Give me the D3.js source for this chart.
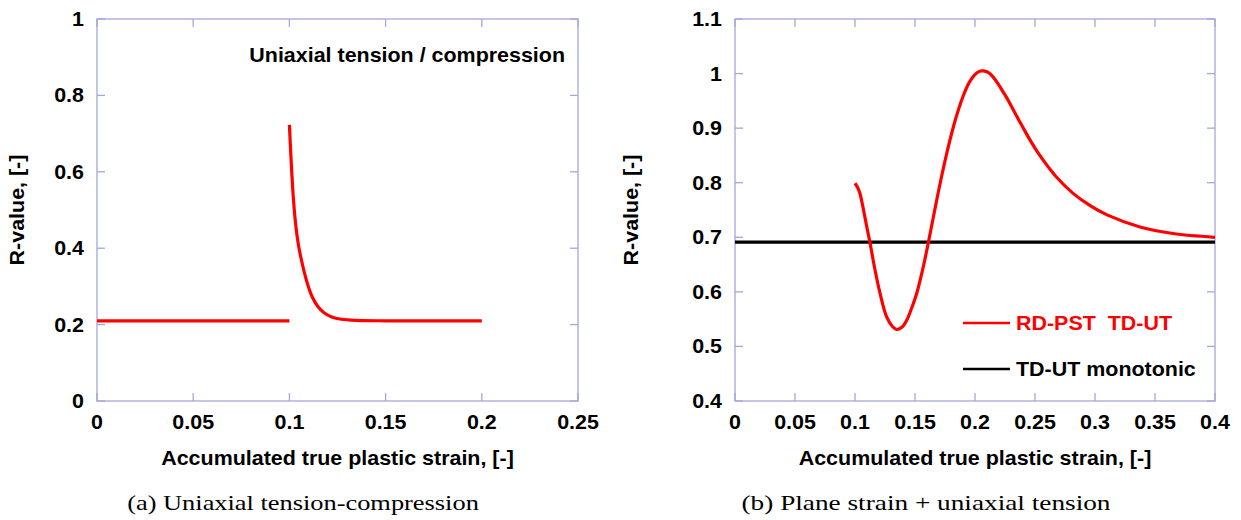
<!DOCTYPE html>
<html>
<head>
<meta charset="utf-8">
<script src="https://cdn.jsdelivr.net/npm/d3@7/dist/d3.min.js"></script>
<style>
  body { margin: 0; background: #fff; }
  svg text { font-family: "Liberation Sans", Arial, sans-serif; font-weight: bold; fill: #000; }
  svg text.caption { font-family: "Liberation Serif", "Times New Roman", serif; font-weight: normal; }
</style>
</head>
<body>
<div id="chart"></div>
<script>
// Data
const leftXTicks = [0, 0.05, 0.1, 0.15, 0.2, 0.25];
const leftXLabels = ['0', '0.05', '0.1', '0.15', '0.2', '0.25'];
const leftYTicks = [0, 0.2, 0.4, 0.6, 0.8, 1];
const leftYLabels = ['0', '0.2', '0.4', '0.6', '0.8', '1'];

const rightXTicks = [0, 0.05, 0.1, 0.15, 0.2, 0.25, 0.3, 0.35, 0.4];
const rightXLabels = ['0', '0.05', '0.1', '0.15', '0.2', '0.25', '0.3', '0.35', '0.4'];
const rightYTicks = [0.4, 0.5, 0.6, 0.7, 0.8, 0.9, 1, 1.1];
const rightYLabels = ['0.4', '0.5', '0.6', '0.7', '0.8', '0.9', '1', '1.1'];

// (a) first loading segment, then reversed loading
const uniaxialFirst = [[0, 0.21], [0.1, 0.21]];
const uniaxialReverse = [
  [0.100, 0.723], [0.101, 0.620], [0.102, 0.535], [0.103, 0.475], [0.104, 0.432],
  [0.105, 0.400], [0.106, 0.375], [0.108, 0.332], [0.110, 0.297], [0.112, 0.271],
  [0.115, 0.246], [0.118, 0.231], [0.122, 0.220], [0.127, 0.214], [0.135, 0.211],
  [0.150, 0.210], [0.175, 0.210], [0.200, 0.210]
];

// (b) plane strain then uniaxial tension
const pstUt = [
  [0.100, 0.799], [0.102, 0.792], [0.104, 0.781], [0.106, 0.762], [0.108, 0.740],
  [0.110, 0.717], [0.1125, 0.690], [0.1167, 0.640], [0.1208, 0.598], [0.1264, 0.554],
  [0.131, 0.537], [0.135, 0.531], [0.139, 0.535], [0.1431, 0.548], [0.147, 0.569],
  [0.1514, 0.597], [0.1569, 0.646], [0.1611, 0.690], [0.166, 0.745], [0.172, 0.810],
  [0.178, 0.868], [0.184, 0.918], [0.190, 0.958], [0.195, 0.983], [0.1995, 0.997],
  [0.2035, 1.004], [0.207, 1.005], [0.211, 1.002], [0.215, 0.994], [0.219, 0.982],
  [0.223, 0.968], [0.2264, 0.956], [0.233, 0.929], [0.240, 0.901], [0.247, 0.874],
  [0.254, 0.850], [0.261, 0.829], [0.268, 0.810], [0.282, 0.780], [0.296, 0.758],
  [0.310, 0.741], [0.3375, 0.719], [0.365, 0.707], [0.400, 0.700]
];
const utMonotonic = [[0, 0.691], [0.4, 0.691]];

const legendNames = ['RD-PST  TD-UT', 'TD-UT monotonic'];

const W = 1241, H = 520;
const frameColor = '#a6a6dc';
const sansSize = 19.5, stretch = 1.1;

const svg = d3.select('#chart').append('svg')
    .attr('width', W)
    .attr('height', H);

// bold sans text, a little wider than Liberation Sans as in the picture
function label(parent, x, y, txt, anchor, rot) {
  return parent.append('text')
    .attr('transform', `translate(${x},${y})` + (rot ? ` rotate(${rot})` : '') + ` scale(${stretch},1)`)
    .attr('text-anchor', anchor || 'start')
    .style('font-size', sansSize + 'px')
    .attr('xml:space', 'preserve')
    .text(txt);
}

function drawPanel(opt) {
  const x = d3.scaleLinear().domain(opt.xDomain).range([opt.left, opt.right]);
  const y = d3.scaleLinear().domain(opt.yDomain).range([opt.bottom, opt.top]);
  const g = svg.append('g');

  // frame
  g.append('rect')
    .attr('x', opt.left).attr('y', opt.top)
    .attr('width', opt.right - opt.left).attr('height', opt.bottom - opt.top)
    .attr('fill', 'none').attr('stroke', frameColor).attr('stroke-width', 1.3);

  // inside ticks on all four sides
  const tk = 8;
  const ticks = g.append('g');
  ticks.selectAll('.tb').data(opt.xTicks).join('line')
    .attr('x1', d => x(d)).attr('x2', d => x(d))
    .attr('y1', opt.bottom).attr('y2', opt.bottom - tk);
  ticks.selectAll('.tt').data(opt.xTicks).join('line')
    .attr('x1', d => x(d)).attr('x2', d => x(d))
    .attr('y1', opt.top).attr('y2', opt.top + tk);
  ticks.selectAll('.tl').data(opt.yTicks).join('line')
    .attr('y1', d => y(d)).attr('y2', d => y(d))
    .attr('x1', opt.left).attr('x2', opt.left + tk);
  ticks.selectAll('.tr').data(opt.yTicks).join('line')
    .attr('y1', d => y(d)).attr('y2', d => y(d))
    .attr('x1', opt.right).attr('x2', opt.right - tk);
  ticks.selectAll('line').attr('stroke', frameColor).attr('stroke-width', 1.3);

  // tick labels
  opt.xTicks.forEach((d, i) => label(g, x(d), opt.bottom + 28, opt.xLabels[i], 'middle'));
  opt.yTicks.forEach((d, i) => label(g, opt.left - 13, y(d) + 7, opt.yLabels[i], 'end'));

  // axis titles
  label(g, (opt.left + opt.right) / 2, 465, 'Accumulated true plastic strain, [-]', 'middle');
  label(g, opt.yTitleX, (opt.top + opt.bottom) / 2, 'R-value, [-]', 'middle', -90);

  // caption (serif, wide like Computer Modern)
  g.append('text').attr('class', 'caption')
    .attr('transform', `translate(${opt.captionX},510) scale(${opt.captionStretch},1)`)
    .attr('text-anchor', 'middle').style('font-size', '22px')
    .text(opt.caption);

  const line = d3.line().x(d => x(d[0])).y(d => y(d[1])).curve(d3.curveCatmullRom.alpha(0.5));
  opt.series.forEach(s => {
    g.append('path').datum(s.data)
      .attr('d', line)
      .attr('fill', 'none')
      .attr('stroke', s.color)
      .attr('stroke-width', 3.2);
  });
  return { g, x, y };
}

const a = drawPanel({
  left: 97, right: 578, top: 19, bottom: 401,
  xDomain: [0, 0.25], yDomain: [0, 1],
  xTicks: leftXTicks, xLabels: leftXLabels,
  yTicks: leftYTicks, yLabels: leftYLabels,
  yTitleX: 24, captionX: 303, captionStretch: 1.2,
  caption: '(a) Uniaxial tension-compression',
  series: [
    { data: uniaxialFirst, color: '#ff0000' },
    { data: uniaxialReverse, color: '#ff0000' }
  ]
});
label(a.g, 565, 62, 'Uniaxial tension / compression', 'end');

const b = drawPanel({
  left: 735, right: 1215, top: 19, bottom: 401,
  xDomain: [0, 0.4], yDomain: [0.4, 1.1],
  xTicks: rightXTicks, xLabels: rightXLabels,
  yTicks: rightYTicks, yLabels: rightYLabels,
  yTitleX: 638, captionX: 926, captionStretch: 1.24,
  caption: '(b) Plane strain + uniaxial tension',
  series: [
    { data: utMonotonic, color: '#000000' },
    { data: pstUt, color: '#ff0000' }
  ]
});

// legend
const legendColors = ['#ff0000', '#000000'];
const legend = b.g.append('g');
legendNames.forEach((name, i) => {
  const ly = 323 + i * 46;
  legend.append('line')
    .attr('x1', 963).attr('x2', 1010).attr('y1', ly).attr('y2', ly)
    .attr('stroke', legendColors[i]).attr('stroke-width', 2.5);
  label(legend, 1016, ly + 7, name, 'start').style('fill', legendColors[i]);
});
</script>
</body>
</html>
